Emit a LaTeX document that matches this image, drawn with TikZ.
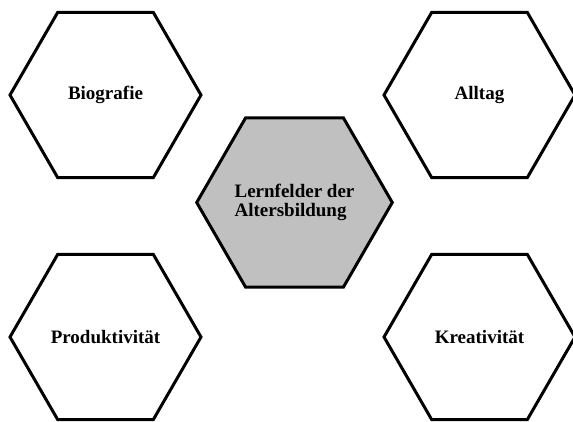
\documentclass[tikz,border=0pt]{standalone}
\usepackage{fontspec}
\setmainfont{Liberation Serif}
\usetikzlibrary{shapes.geometric}
\definecolor{hexgray}{HTML}{C0C0C0}
\tikzset{
  hexbox/.style={regular polygon, regular polygon sides=6, minimum size=191pt,
    draw=black, line width=3pt, fill=white, inner sep=0pt,
    font=\bfseries\fontsize{19}{19}\selectfont, align=left},
  hexcenter/.style={hexbox, fill=hexgray}
}
\begin{document}
\begin{tikzpicture}[x=1pt,y=-1pt]
\useasboundingbox (0,0) rectangle (573,421);
\fill[white] (0,0) rectangle (573,421);
\node[hexbox] (bio) at (105.5,95) {Biografie};
\node[hexbox] (all) at (479.5,95) {Alltag};
\node[hexbox] (pro) at (105.5,337) {Produktivität};
\node[hexbox] (kre) at (479.5,337) {Kreativität};
\node[hexcenter] (lern) at (294.5,202.5) {Lernfelder der\\Altersbildung};
\end{tikzpicture}
\end{document}
